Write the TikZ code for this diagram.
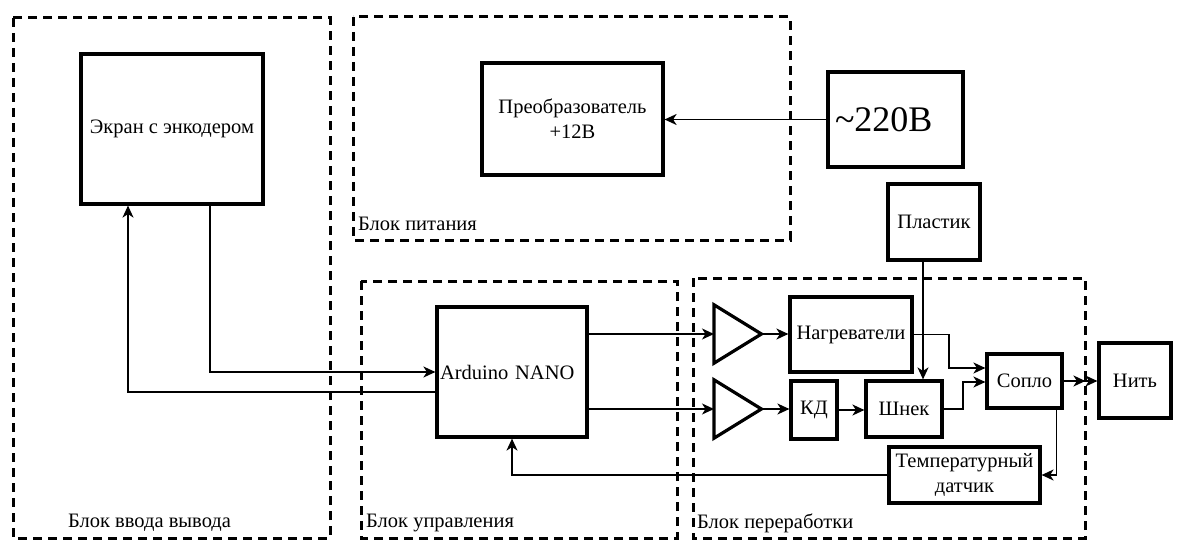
\documentclass[tikz,border=0pt]{standalone}
\usepackage{fontspec}
\setmainfont{Liberation Serif}
\usetikzlibrary{arrows.meta}
\begin{document}
\begin{tikzpicture}[x=1pt,y=-1pt,
  box/.style={draw, line width=3.2pt, inner sep=3pt, align=center,
    font=\fontsize{20.5}{25}\selectfont},
  group/.style={draw, line width=3pt, dash pattern=on 9pt off 6pt},
  grouplabel/.style={inner sep=0pt, anchor=west, font=\fontsize{20.5}{24}\selectfont},
  tip/.tip={Stealth[length=12pt,width=11pt,inset=3.5pt]},
  wire/.style={line width=1.6pt, -tip},
  amp/.style={inner sep=0pt, minimum width=47pt, minimum height=58pt, anchor=west},
  ampline/.style={draw, line width=3.2pt, line join=miter}]
\useasboundingbox (0,0) rectangle (1177,540);

% dashed functional blocks
\draw[group] (13,18) rectangle (330,538);
\draw[group] (353,17) rectangle (790,240);
\draw[group] (361,281) rectangle (677,538);
\draw[group] (693,278) rectangle (1085,538);
\node[grouplabel] (lblio)   at (68,523)  {Блок ввода вывода};
\node[grouplabel] (lblpwr)  at (358,224) {Блок питания};
\node[grouplabel] (lblctl)  at (366,523) {Блок управления};
\node[grouplabel] (lblproc) at (697,523) {Блок переработки};

% units
\node[box, minimum width=182pt, minimum height=150pt] (scr) at (172,129) {Экран с энкодером};
\node[box, minimum width=181pt, minimum height=112pt] (conv) at (572.5,119) {Преобразователь\\+12В};
\node[box, minimum height=95pt, text width=121pt, inner xsep=7pt, align=left,
  font=\fontsize{36}{42}\selectfont] (v220) at (895.5,119.5) {\textasciitilde 220В};
\node[box, minimum width=92pt, minimum height=76pt] (plast) at (934,222) {Пластик};
\node[box, minimum height=130pt, text width=144pt, align=left] (ard) at (512,372) {Arduino NANO};
\node[box, minimum width=122pt, minimum height=75pt] (heat) at (851,334.5) {Нагреватели};
\node[box, minimum width=46pt, minimum height=58pt, inner sep=1pt] (kd) at (814,410) {КД};
\node[box, minimum width=76pt, minimum height=56pt] (shnek) at (904,409) {Шнек};
\node[box, minimum width=75pt, minimum height=54pt] (soplo) at (1024.5,381) {Сопло};
\node[box, minimum width=72pt, minimum height=75pt] (nit) at (1135,380.5) {Нить};
\node[box, minimum width=151pt, minimum height=56pt, inner sep=1pt] (temp) at (964.5,475) {Температурный\\датчик};

% amplifiers: triangles spanned over their nodes
\node[amp] (amp1) at (714,334) {};
\node[amp] (amp2) at (714,409) {};
\foreach \a in {amp1,amp2}
  \draw[ampline] (\a.north west) -- (\a.east) -- (\a.south west) -- cycle;

% routing points
\coordinate (scrout) at (210,0);
\coordinate (scrin) at (128,392);
\coordinate (feed) at (923,0);
\coordinate (heatbend) at (949,368);
\coordinate (shnekbend) at (963,382);

% connections
\draw[wire] (v220.west) -- (v220.west -| conv.east);
\draw[wire] (scr.south -| scrout) |- (ard.west);
\draw[wire] (ard.west |- scrin) -| (scr.south -| scrin);
\draw[wire] (ard.east |- amp1.west) -- (amp1.west);
\draw[wire] (ard.east |- amp2.west) -- (amp2.west);
\draw[wire] (amp1.east) -- (amp1.east -| heat.west);
\draw[wire] (amp2.east) -- (amp2.east -| kd.west);
\draw[wire] (kd.east) -- (kd.east -| shnek.west);
\draw[wire] (plast.south -| feed) -- (shnek.north -| feed);
\draw[wire] (heat.east) -| (heatbend) -- (heatbend -| soplo.west);
\draw[wire] (shnek.east) -| (shnekbend) -- (shnekbend -| soplo.west);
\draw[line width=1.6pt, -{tip[]tip[]}] (soplo.east) -- (soplo.east -| nit.west);
\draw[wire] ([xshift=-7pt]soplo.south east) |- (temp.east);
\draw[wire] (temp.west) -| (ard.south);
\end{tikzpicture}
\end{document}
